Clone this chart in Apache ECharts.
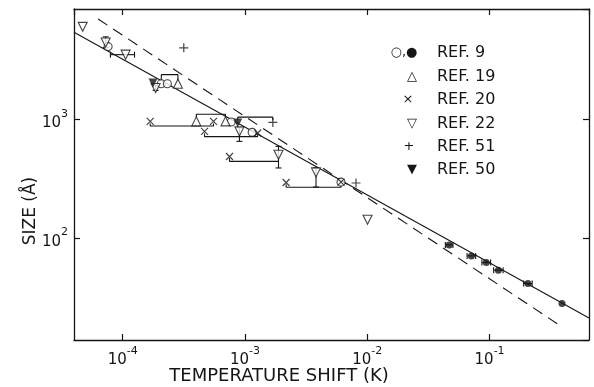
<!DOCTYPE html>
<html>
<head>
<meta charset="utf-8">
<script src="https://cdn.jsdelivr.net/npm/echarts@6/dist/echarts.min.js"></script>
<style>
  html, body { margin: 0; padding: 0; background: #fff; }
  #chart { width: 594px; height: 387px; }
</style>
</head>
<body>
<div id="chart"></div>
<script>
// axis ranges: temperature shift (K) and size (Å)
const xRange = [4e-5, 0.65];
const yRange = [13.8, 8600];

// fitted lines
const solidLineX = [4e-5, 0.65];
const solidLineY = [5470, 21.2];
const dashLineX = [6.3e-5, 0.37];
const dashLineY = [7080, 18.5];

// REF 9 (open and filled circles)
const ref9OpenX = [7.6e-5, 2.07e-4, 2.32e-4, 7.71e-4, 1.145e-3, 6.1e-3];
const ref9OpenY = [4140, 2010, 2010, 957, 782, 297];
const ref9FilledX = [0.0467, 0.071, 0.094, 0.118, 0.206, 0.391];
const ref9FilledY = [87.7, 70.8, 62.2, 53.6, 41.3, 28.0];
const ref9FilledLo = [0.0435, 0.0655, 0.0865, 0.108, 0.190, 0.391];
const ref9FilledHi = [0.0502, 0.0770, 0.102, 0.129, 0.223, 0.391];

// REF 19 (open triangles)
const ref19X = [2.83e-4, 4.0e-4, 6.93e-4];
const ref19Y = [2010, 968, 968];

// REF 20 (crosses)
const ref20X = [1.68e-4, 5.53e-4, 4.67e-4, 1.27e-3, 7.47e-4, 2.17e-3, 6.1e-3];
const ref20Y = [968, 968, 796, 772, 489, 295, 297];

// REF 22 (open inverted triangles)
const ref22X = [4.71e-5, 7.26e-5, 1.057e-4, 1.86e-4, 9.01e-4, 1.88e-3, 3.81e-3, 1.005e-2];
const ref22Y = [6080, 4480, 3540, 1850, 796, 506, 359, 143];
const ref22VErrX = [7.26e-5, 1.86e-4, 9.01e-4, 1.88e-3, 3.81e-3];
const ref22VErrLo = [4050, 1770, 656, 391, 270];
const ref22VErrHi = [5000, 1950, 855, 595, 391];
const ref22HErrY = [3540];
const ref22HErrLo = [7.94e-5];
const ref22HErrHi = [1.25e-4];

// REF 51 (plus)
const ref51X = [3.16e-4, 1.69e-3, 8.09e-3];
const ref51Y = [4040, 949, 292];

// REF 50 (filled inverted triangles)
const ref50X = [1.77e-4, 8.73e-4];
const ref50Y = [2040, 938];

// range brackets joining points of one measurement
const bracketsX = [
  [2.07e-4, 2.07e-4, 2.83e-4, 2.83e-4],
  [4.0e-4, 4.0e-4, 6.93e-4, 6.93e-4],
  [8.73e-4, 8.73e-4, 1.69e-3, 1.69e-3],
  [1.68e-4, 1.68e-4, 5.53e-4, 5.53e-4],
  [4.67e-4, 4.67e-4, 1.27e-3, 1.27e-3],
  [7.47e-4, 7.47e-4, 1.88e-3],
  [2.17e-3, 2.17e-3, 6.1e-3, 6.1e-3]
];
const bracketsY = [
  [2150, 2400, 2400, 2150],
  [1040, 1110, 1110, 1040],
  [990, 1050, 1050, 990],
  [930, 885, 885, 930],
  [765, 720, 720, 750],
  [475, 445, 445],
  [285, 269, 269, 285]
];

const legendMarks = ['○,●', '△', '×', '▽', '+', '▼'];
const legendLabels = ['REF. 9', 'REF. 19', 'REF. 20', 'REF. 22', 'REF. 51', 'REF. 50'];

const ink = '#151515';
const fontFamily = 'DejaVu Sans';

const zip = (xs, ys) => xs.map((x, i) => [x, ys[i]]);

const tickLabel = {
  margin: 6,
  showMinLabel: false,
  showMaxLabel: false,
  color: ink,
  fontFamily,
  formatter: (v) => '{b|10}{s|' + Math.round(Math.log10(v)) + '}',
  rich: {
    b: { fontSize: 15, lineHeight: 22, verticalAlign: 'bottom', fontFamily, color: ink },
    s: { fontSize: 11, lineHeight: 22, verticalAlign: 'top', fontFamily, color: ink }
  }
};

const axisBase = {
  type: 'log',
  logBase: 10,
  axisLine: { show: true, lineStyle: { color: ink, width: 1.3 } },
  axisTick: { show: true, inside: true, length: 6, lineStyle: { color: ink, width: 1.2 } },
  splitLine: { show: false },
  minorTick: { show: false }
};

const openStyle = { color: '#fff', borderColor: ink, borderWidth: 1.1 };
const strokeStyle = { color: 'none', borderColor: ink, borderWidth: 1.2 };

const scatter = (xs, ys, symbol, size, itemStyle, rotate) => ({
  type: 'scatter',
  data: zip(xs, ys),
  symbol,
  symbolSize: size,
  symbolRotate: rotate || 0,
  itemStyle,
  z: 4,
  silent: true
});

// short segments with end caps (error bars)
const segments = (items) => ({
  type: 'custom',
  silent: true,
  z: 3,
  encode: { x: [0, 2], y: [1, 3] },
  renderItem: (params, api) => {
    const p1 = api.coord([api.value(0), api.value(1)]);
    const p2 = api.coord([api.value(2), api.value(3)]);
    const vertical = Math.abs(p1[0] - p2[0]) < 0.5;
    const cap = 3;
    const style = { stroke: ink, lineWidth: 1.1 };
    const capLine = (p) => vertical
      ? { type: 'line', shape: { x1: p[0] - cap, y1: p[1], x2: p[0] + cap, y2: p[1] }, style }
      : { type: 'line', shape: { x1: p[0], y1: p[1] - cap, x2: p[0], y2: p[1] + cap }, style };
    return {
      type: 'group',
      children: [
        { type: 'line', shape: { x1: p1[0], y1: p1[1], x2: p2[0], y2: p2[1] }, style },
        capLine(p1),
        capLine(p2)
      ]
    };
  },
  data: items
});

const polyline = (xs, ys, dashed) => ({
  type: 'line',
  data: zip(xs, ys),
  showSymbol: false,
  symbol: 'none',
  silent: true,
  z: 2,
  lineStyle: { color: ink, width: 1.1, type: dashed ? [11, 7] : 'solid' }
});

const chart = echarts.init(document.getElementById('chart'));

const vErrItems = ref22VErrX.map((x, i) => [x, ref22VErrLo[i], x, ref22VErrHi[i]]);
const hErrItems = ref22HErrY.map((y, i) => [ref22HErrLo[i], y, ref22HErrHi[i], y])
  .concat(ref9FilledY.map((y, i) => [ref9FilledLo[i], y, ref9FilledHi[i], y])
    .filter((d) => d[0] !== d[2]));

const legendTop = [53, 77, 100, 124, 147, 170];
const legendMarkX = [404, 412, 408, 412, 409, 412];

chart.setOption({
  animation: false,
  backgroundColor: '#fff',
  grid: { left: 74, right: 5, top: 9, bottom: 47, containLabel: false },
  xAxis: [
    Object.assign({}, axisBase, { min: xRange[0], max: xRange[1], position: 'bottom', axisLabel: tickLabel }),
    Object.assign({}, axisBase, { min: xRange[0], max: xRange[1], position: 'top', axisLabel: { show: false } })
  ],
  yAxis: [
    Object.assign({}, axisBase, { min: yRange[0], max: yRange[1], position: 'left', axisLabel: tickLabel }),
    Object.assign({}, axisBase, { min: yRange[0], max: yRange[1], position: 'right', axisLabel: { show: false } })
  ],
  series: [
    polyline(solidLineX, solidLineY, false),
    polyline(dashLineX, dashLineY, true),
    ...bracketsX.map((xs, i) => polyline(xs, bracketsY[i], false)),
    segments(vErrItems),
    segments(hErrItems),
    scatter(ref9OpenX, ref9OpenY, 'circle', 8, openStyle),
    scatter(ref9FilledX, ref9FilledY, 'circle', 7, { color: ink }),
    scatter(ref19X, ref19Y, 'triangle', 9, openStyle),
    scatter(ref20X, ref20Y, 'path://M0,0L10,10M10,0L0,10', 7, strokeStyle),
    scatter(ref22X, ref22Y, 'triangle', 9, openStyle, 180),
    scatter(ref51X, ref51Y, 'path://M5,0L5,10M0,5L10,5', 9, strokeStyle),
    scatter(ref50X, ref50Y, 'triangle', 9, { color: ink }, 180)
  ],
  graphic: [
    {
      type: 'text',
      x: 279,
      y: 376,
      style: { text: 'TEMPERATURE SHIFT (K)', font: '18px "DejaVu Sans"', fill: ink, align: 'center', verticalAlign: 'middle' }
    },
    {
      type: 'text',
      x: 31,
      y: 211,
      rotation: Math.PI / 2,
      style: { text: 'SIZE (Å)', font: '17px "DejaVu Sans"', fill: ink, align: 'center', verticalAlign: 'middle' }
    },
    ...legendLabels.map((label, i) => ({
      type: 'group',
      children: [
        {
          type: 'text',
          x: legendMarkX[i],
          y: legendTop[i],
          style: { text: legendMarks[i], font: '13px "DejaVu Sans"', fill: ink, align: 'center', verticalAlign: 'middle' }
        },
        {
          type: 'text',
          x: 437,
          y: legendTop[i],
          style: { text: label, font: '16px "DejaVu Sans"', fill: ink, align: 'left', verticalAlign: 'middle' }
        }
      ]
    }))
  ]
});
</script>
</body>
</html>
